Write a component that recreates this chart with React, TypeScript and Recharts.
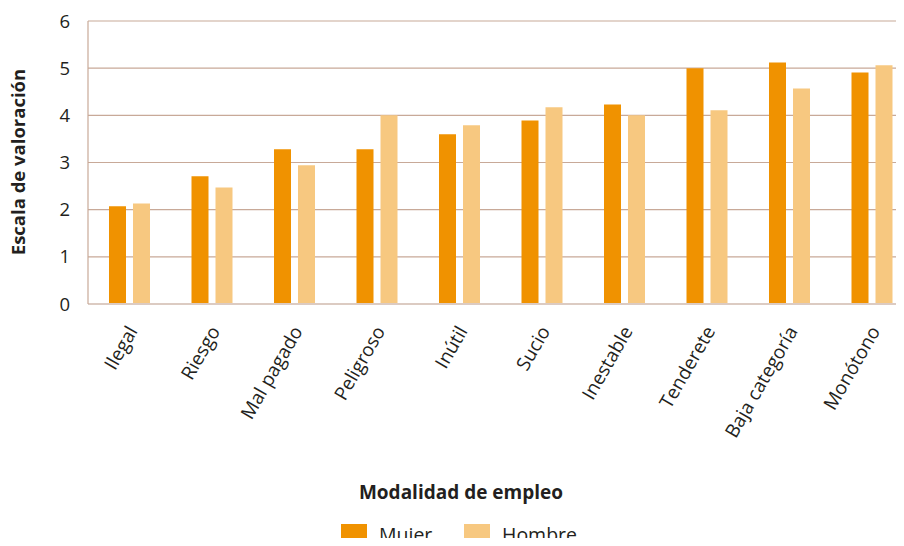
import React from 'react';
import { BarChart, Bar, XAxis, YAxis, CartesianGrid, Label } from 'recharts';

const categories = ['Ilegal', 'Riesgo', 'Mal pagado', 'Peligroso', 'Inútil', 'Sucio', 'Inestable', 'Tenderete', 'Baja categoría', 'Monótono'];
const mujer = [2.07, 2.71, 3.28, 3.28, 3.6, 3.89, 4.23, 5.0, 5.12, 4.91];
const hombre = [2.13, 2.47, 2.94, 4.0, 3.79, 4.17, 4.0, 4.11, 4.57, 5.06];
const yTicks = [0, 1, 2, 3, 4, 5, 6];

const series = [
  { key: 'mujer', name: 'Mujer', color: '#f09200' },
  { key: 'hombre', name: 'Hombre', color: '#f7c880' },
];

const data = categories.map((name, i) => ({ name, mujer: mujer[i], hombre: hombre[i] }));

const FONT = '"Open Sans", "Noto Sans", sans-serif';
const TEXT = '#231f20';

const XTick = (props: any) => {
  const { x, y, payload } = props;
  const px = x + 9;
  const py = y + 19;
  return (
    <text
      x={px}
      y={py}
      textAnchor="end"
      fontSize={19}
      fontFamily={FONT}
      fill={TEXT}
      transform={`rotate(-60 ${px} ${py})`}
    >
      {payload.value}
    </text>
  );
};

const YTitle = () => (
  <text
    x={17}
    y={162}
    textAnchor="middle"
    dominantBaseline="central"
    fontSize={18.5}
    fontWeight={700}
    fontFamily={FONT}
    fill={TEXT}
    transform="rotate(-90 17 162)"
  >
    Escala de valoración
  </text>
);

export default function App() {
  return (
    <div style={{ margin: -8, width: 904, height: 546, overflow: 'hidden', position: 'relative', fontFamily: FONT }}>
      <BarChart
        width={920}
        height={546}
        data={data}
        margin={{ top: 21, right: 7, bottom: 0, left: 0 }}
        barSize={17}
        barGap={7}
      >
        <CartesianGrid vertical={false} stroke="#c8a998" strokeWidth={1.2} />
        <XAxis
          dataKey="name"
          height={242}
          interval={0}
          tickLine={false}
          axisLine={{ stroke: '#dccbc2', strokeWidth: 2 }}
          tick={<XTick />}
        />
        <YAxis
          width={88}
          domain={[0, 6]}
          ticks={yTicks}
          tickLine={false}
          tickSize={0}
          tickMargin={18}
          axisLine={{ stroke: '#c8a998', strokeWidth: 1.2 }}
          tick={{ fontSize: 18.5, fill: TEXT, fontFamily: FONT }}
        >
          <Label content={<YTitle />} />
        </YAxis>
        {series.map((s) => (
          <Bar key={s.key} dataKey={s.key} name={s.name} fill={s.color} isAnimationActive={false} />
        ))}
      </BarChart>
      <div
        style={{
          position: 'absolute',
          left: 0,
          width: 922,
          top: 479,
          textAlign: 'center',
          fontSize: 19,
          fontWeight: 700,
          color: TEXT,
        }}
      >
        Modalidad de empleo
      </div>
      {series.map((s, i) => (
        <div key={s.key} style={{ position: 'absolute', left: 341 + i * 123, top: 524, display: 'flex', alignItems: 'flex-start' }}>
          <div style={{ width: 26, height: 22, background: s.color }} />
          <span style={{ marginLeft: 12, fontSize: 19.5, color: TEXT, lineHeight: '22px' }}>{s.name}</span>
        </div>
      ))}
    </div>
  );
}
